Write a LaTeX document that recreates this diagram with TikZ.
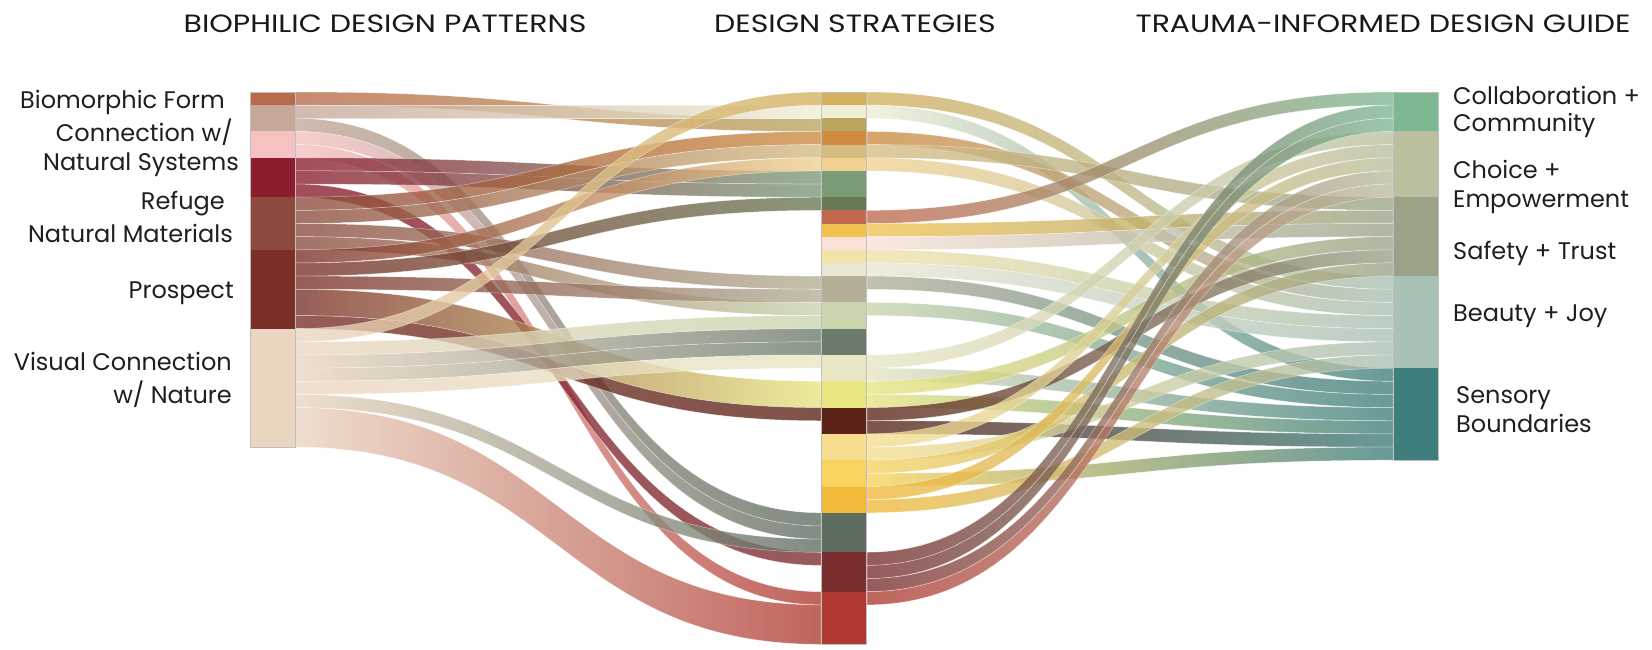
\documentclass[tikz,border=0pt]{standalone}
\usepackage{fontspec}
\setmainfont{Poppins}
\newfontfamily\titlefont[FakeStretch=1.2]{Poppins}
\usetikzlibrary{calc}
% left colours
\definecolor{lA}{HTML}{B86A4B}
\definecolor{lB}{HTML}{C5A898}
\definecolor{lC}{HTML}{F6C2C1}
\definecolor{lD}{HTML}{8B1D2E}
\definecolor{lE}{HTML}{8B4A3C}
\definecolor{lF}{HTML}{7A3027}
\definecolor{lG}{HTML}{EBD6C1}
% middle colours
\definecolor{m0}{HTML}{D4B05C}
\definecolor{m1}{HTML}{EFEED6}
\definecolor{m2}{HTML}{BBA660}
\definecolor{m3}{HTML}{CF8B42}
\definecolor{m4}{HTML}{D5BD82}
\definecolor{m5}{HTML}{F2D190}
\definecolor{m6}{HTML}{7B9B79}
\definecolor{m8}{HTML}{697955}
\definecolor{m9}{HTML}{C1694F}
\definecolor{m10}{HTML}{F2C24F}
\definecolor{m11}{HTML}{F9E3D8}
\definecolor{m12}{HTML}{F3E3A8}
\definecolor{m13}{HTML}{E9E7D4}
\definecolor{m14}{HTML}{B4AF96}
\definecolor{m16}{HTML}{C9D6AE}
\definecolor{m18}{HTML}{6B7B6B}
\definecolor{m20}{HTML}{E8E6C3}
\definecolor{m22}{HTML}{E8E67F}
\definecolor{m24}{HTML}{5B2317}
\definecolor{m26}{HTML}{F6DD8F}
\definecolor{m28}{HTML}{F9D35F}
\definecolor{m30}{HTML}{F1B93A}
\definecolor{m32}{HTML}{5E6D60}
\definecolor{m35}{HTML}{7B2E2F}
\definecolor{m38}{HTML}{AF3A31}
% right colours
\definecolor{rC}{HTML}{7DB892}
\definecolor{rH}{HTML}{BBBE9F}
\definecolor{rS}{HTML}{9AA388}
\definecolor{rB}{HTML}{A9C1B4}
\definecolor{rX}{HTML}{3E7E7C}

\def\yo{92}
\def\uu{13.15}

\tikzset{
  flowband/.style={fill opacity=0.78, draw=white, draw opacity=0.5, line width=0.5pt},
  bar/.style={draw=none, inner sep=0pt, outer sep=0pt, minimum width=45pt, anchor=north west},
  colframe/.style={draw=black!25, line width=0.6pt},
  title/.style={font=\titlefont\fontsize{25}{30}\selectfont, text=black!90, inner sep=0pt, text height=17pt, text depth=0pt},
  lbl/.style={font=\fontsize{24}{28}\selectfont, text=black!88, inner sep=0pt, text height=17pt, text depth=0pt},
}

% #1 x1, #2 x2, #3 source unit, #4 target unit, #5 units, #6 colour A, #7 colour B
\newcommand{\sflow}[7]{%
  \pgfmathsetmacro\fya{\yo+#3*\uu}%
  \pgfmathsetmacro\fyb{\yo+#4*\uu}%
  \pgfmathsetmacro\fyc{\fya+#5*\uu}%
  \pgfmathsetmacro\fyd{\fyb+#5*\uu}%
  \pgfmathsetmacro\fxm{(#1+#2)/2}%
  \shade[flowband, left color=#6, right color=#7]
    (#1,\fya) .. controls (\fxm,\fya) and (\fxm,\fyb) .. (#2,\fyb)
    -- (#2,\fyd) .. controls (\fxm,\fyd) and (\fxm,\fyc) .. (#1,\fyc) -- cycle;
}
% #1 name, #2 x, #3 start unit, #4 units, #5 colour
\newcommand{\sbar}[5]{%
  \pgfmathsetmacro\bya{\yo+#3*\uu}%
  \pgfmathsetmacro\bh{#4*\uu}%
  \node[bar, fill=#5, minimum height=\bh pt] (#1) at (#2,\bya) {};
}

\begin{document}
\begin{tikzpicture}[x=1pt,y=-1pt]
\fill[white] (0,0) rectangle (1652,649);
\useasboundingbox (0,0) rectangle (1652,649);

% ---------------- left -> middle flows
\sflow{295}{821}{0}{2}{1}{lA}{m2}
\sflow{295}{821}{1}{1}{1}{lB}{m1}
\sflow{295}{821}{2}{32}{1}{lB}{m32}
\sflow{295}{821}{3}{33}{1}{lC}{m32}
\sflow{295}{821}{4}{38}{1}{lC}{m38}
\sflow{295}{821}{5}{6}{1}{lD}{m6}
\sflow{295}{821}{6}{7}{1}{lD}{m6}
\sflow{295}{821}{7}{35}{1}{lD}{m35}
\sflow{295}{821}{8}{3}{1}{lE}{m3}
\sflow{295}{821}{9}{4}{1}{lE}{m4}
\sflow{295}{821}{10}{14}{1}{lE}{m14}
\sflow{295}{821}{11}{16}{1}{lE}{m16}
\sflow{295}{821}{12}{5}{1}{lF}{m5}
\sflow{295}{821}{13}{8}{1}{lF}{m8}
\sflow{295}{821}{14}{15}{1}{lF}{m14}
\sflow{295}{821}{15}{22}{2}{lF}{m22}
\sflow{295}{821}{17}{24}{1}{lF}{m24}
\sflow{295}{821}{18}{0}{1}{lG}{m0}
\sflow{295}{821}{19}{17}{1}{lG}{m16}
\sflow{295}{821}{20}{18}{1}{lG}{m18}
\sflow{295}{821}{21}{19}{1}{lG}{m18}
\sflow{295}{821}{22}{20}{1}{lG}{m20}
\sflow{295}{821}{23}{34}{1}{lG}{m32}
\sflow{295}{821}{24}{39}{3}{lG}{m38}

% ---------------- middle -> right flows
\sflow{867}{1393}{0}{14}{1}{m0}{rB}
\sflow{867}{1393}{1}{21}{1}{m1}{rX}
\sflow{867}{1393}{3}{15}{1}{m3}{rB}
\sflow{867}{1393}{4}{8}{1}{m4}{rS}
\sflow{867}{1393}{5}{16}{1}{m5}{rB}
\sflow{867}{1393}{9}{0}{1}{m9}{rC}
\sflow{867}{1393}{10}{9}{1}{m10}{rS}
\sflow{867}{1393}{11}{10}{1}{m11}{rS}
\sflow{867}{1393}{12}{17}{1}{m12}{rB}
\sflow{867}{1393}{13}{18}{1}{m13}{rB}
\sflow{867}{1393}{14}{22}{1}{m14}{rX}
\sflow{867}{1393}{16}{23}{1}{m16}{rX}
\sflow{867}{1393}{20}{3}{1}{m20}{rH}
\sflow{867}{1393}{21}{24}{1}{m20}{rX}
\sflow{867}{1393}{22}{11}{1}{m22}{rS}
\sflow{867}{1393}{23}{25}{1}{m22}{rX}
\sflow{867}{1393}{24}{12}{1}{m24}{rS}
\sflow{867}{1393}{25}{26}{1}{m24}{rX}
\sflow{867}{1393}{26}{4}{1}{m26}{rH}
\sflow{867}{1393}{27}{19}{1}{m26}{rB}
\sflow{867}{1393}{28}{13}{1}{m28}{rS}
\sflow{867}{1393}{29}{27}{1}{m28}{rX}
\sflow{867}{1393}{30}{5}{1}{m30}{rH}
\sflow{867}{1393}{31}{20}{1}{m30}{rB}
\sflow{867}{1393}{35}{1}{1}{m35}{rC}
\sflow{867}{1393}{36}{2}{1}{m35}{rC}
\sflow{867}{1393}{37}{6}{1}{m35}{rH}
\sflow{867}{1393}{38}{7}{1}{m38}{rH}

% ---------------- left nodes
\sbar{bio}{250}{0}{1}{lA}
\sbar{cns}{250}{1}{2}{lB}
\sbar{cnsb}{250}{3}{2}{lC}
\sbar{ref}{250}{5}{3}{lD}
\sbar{nat}{250}{8}{4}{lE}
\sbar{pro}{250}{12}{6}{lF}
\sbar{vis}{250}{18}{9}{lG}
\draw[colframe] (bio.north west) rectangle (vis.south east);

% ---------------- middle nodes
\sbar{s0}{821}{0}{1}{m0}
\sbar{s1}{821}{1}{1}{m1}
\sbar{s2}{821}{2}{1}{m2}
\sbar{s3}{821}{3}{1}{m3}
\sbar{s4}{821}{4}{1}{m4}
\sbar{s5}{821}{5}{1}{m5}
\sbar{s6}{821}{6}{2}{m6}
\sbar{s8}{821}{8}{1}{m8}
\sbar{s9}{821}{9}{1}{m9}
\sbar{s10}{821}{10}{1}{m10}
\sbar{s11}{821}{11}{1}{m11}
\sbar{s12}{821}{12}{1}{m12}
\sbar{s13}{821}{13}{1}{m13}
\sbar{s14}{821}{14}{2}{m14}
\sbar{s16}{821}{16}{2}{m16}
\sbar{s18}{821}{18}{2}{m18}
\sbar{s20}{821}{20}{2}{m20}
\sbar{s22}{821}{22}{2}{m22}
\sbar{s24}{821}{24}{2}{m24}
\sbar{s26}{821}{26}{2}{m26}
\sbar{s28}{821}{28}{2}{m28}
\sbar{s30}{821}{30}{2}{m30}
\sbar{s32}{821}{32}{3}{m32}
\sbar{s35}{821}{35}{3}{m35}
\sbar{s38}{821}{38}{4}{m38}
\draw[colframe] (s0.north west) rectangle (s38.south east);

% ---------------- right nodes
\sbar{col}{1393}{0}{3}{rC}
\sbar{cho}{1393}{3}{5}{rH}
\sbar{saf}{1393}{8}{6}{rS}
\sbar{bea}{1393}{14}{7}{rB}
\sbar{sen}{1393}{21}{7}{rX}
\draw[colframe] (col.north west) rectangle (sen.south east);

% ---------------- titles
\node[title] (t1) at (385,24) {BIOPHILIC DESIGN PATTERNS};
\node[title] (t2) at (855,24) {DESIGN STRATEGIES};
\node[title] (t3) at (1383,24) {TRAUMA-INFORMED DESIGN GUIDE};

% ---------------- left labels
\node[lbl, anchor=east] (lb1) at (225,100) {Biomorphic Form};
\node[lbl, anchor=east] (lb2) at (233,133) {Connection w/};
\node[lbl, anchor=east] (lb3) at (239,162) {Natural Systems};
\node[lbl, anchor=east] (lb4) at (225,201) {Refuge};
\node[lbl, anchor=east] (lb5) at (233,234) {Natural Materials};
\node[lbl, anchor=east] (lb6) at (234,290) {Prospect};
\node[lbl, anchor=east] (lb7) at (232,362) {Visual Connection};
\node[lbl, anchor=east] (lb8) at (232,395) {w/ Nature};

% ---------------- right labels
\node[lbl, anchor=west] (rb1) at (1453,96) {Collaboration +};
\node[lbl, anchor=west] (rb2) at (1453,123) {Community};
\node[lbl, anchor=west] (rb3) at (1453,170) {Choice +};
\node[lbl, anchor=west] (rb4) at (1453,199) {Empowerment};
\node[lbl, anchor=west] (rb5) at (1453,251) {Safety + Trust};
\node[lbl, anchor=west] (rb6) at (1453,313) {Beauty + Joy};
\node[lbl, anchor=west] (rb7) at (1456,395) {Sensory};
\node[lbl, anchor=west] (rb8) at (1456,424) {Boundaries};
\end{tikzpicture}
\end{document}
